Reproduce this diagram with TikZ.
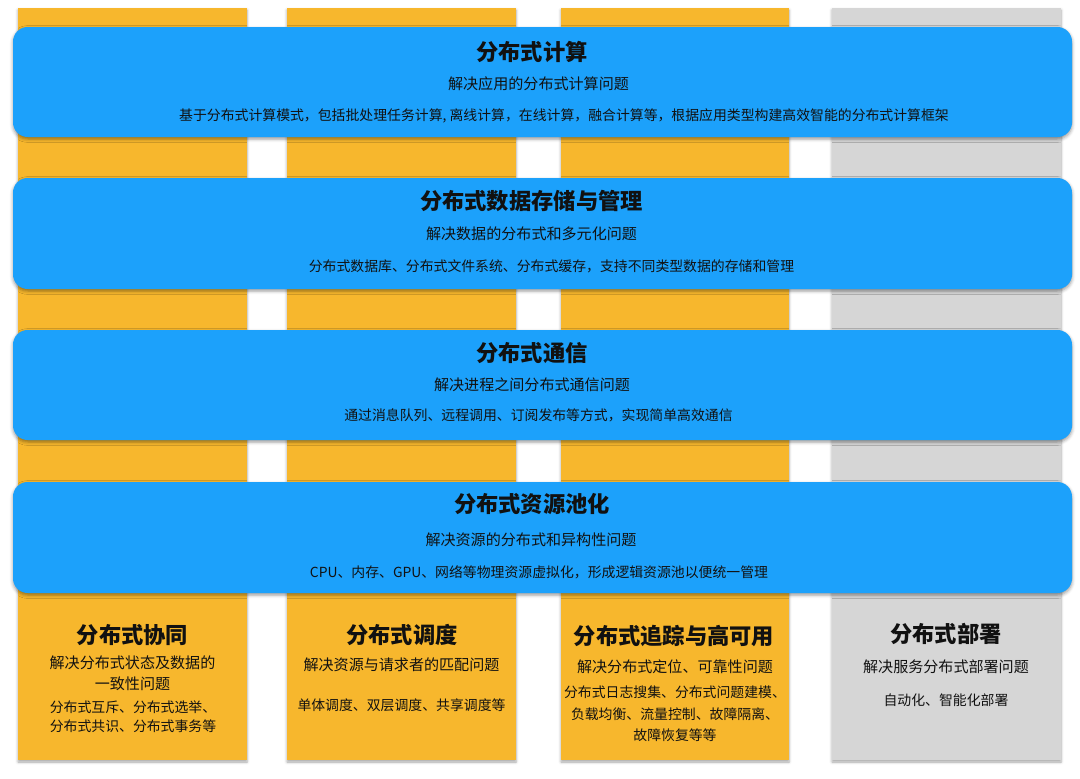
\documentclass[tikz,border=0pt]{standalone}
\usepackage{fontspec}
\setmainfont{Noto Sans CJK SC}
\usetikzlibrary{shadows.blur}
\definecolor{pillarorange}{RGB}{247,183,45}
\definecolor{pillargrey}{RGB}{214,214,214}
\definecolor{bandblue}{RGB}{28,161,251}
\definecolor{ink}{RGB}{17,17,17}

\begin{document}
\begin{tikzpicture}[x=0.75pt,y=0.75pt,yscale=-1,xscale=1,
    pillar/.style={fill=pillarorange,blur shadow={shadow xshift=0pt,shadow yshift=-1.5pt,shadow blur radius=2pt,shadow opacity=35}},
    band/.style={fill=bandblue,rounded corners=11pt,blur shadow={shadow xshift=0pt,shadow yshift=-1.5pt,shadow blur radius=2.5pt,shadow opacity=40}},
    title/.style={inner sep=0pt,text=ink,font=\bfseries\fontsize{16.7}{20}\selectfont},
    subtitle/.style={inner sep=0pt,text=ink,font=\fontsize{11.3}{14}\selectfont},
    detail/.style={inner sep=0pt,text=ink,font=\fontsize{10.4}{13}\selectfont}]
        \path[use as bounding box] (0,0) rectangle (1080,778);

        %Shape: Rectangle [pillars]
        \fill[pillar] (18,8) rectangle (247,760);
        \fill[pillar] (287,8) rectangle (516,760);
        \fill[pillar] (561,8) rectangle (789,760);
        \fill[pillar,fill=pillargrey] (832,8) rectangle (1061,760);

        %Rounded Rect [bands]
        \fill[band] (13,27) rectangle (1072,137);
        \fill[band] (13,178) rectangle (1072,289);
        \fill[band] (13,330) rectangle (1072,440);
        \fill[band] (13,482) rectangle (1072,593);

        % Text Node
        \node[title] (calcTitle) at (532,52) {分布式计算};
        \node[subtitle] (calcSub) at (538.5,84) {解决应用的分布式计算问题};
        \node[detail] (calcDetail) at (564,116) {基于分布式计算模式，包括批处理任务计算, 离线计算，在线计算，融合计算等，根据应用类型构建高效智能的分布式计算框架};

        % Text Node
        \node[title] (storeTitle) at (531.5,201) {分布式数据存储与管理};
        \node[subtitle] (storeSub) at (531.5,234) {解决数据的分布式和多元化问题};
        \node[detail] (storeDetail) at (551.5,266) {分布式数据库、分布式文件系统、分布式缓存，支持不同类型数据的存储和管理};

        % Text Node
        \node[title] (commTitle) at (532,353) {分布式通信};
        \node[subtitle] (commSub) at (532,385) {解决进程之间分布式通信问题};
        \node[detail] (commDetail) at (538.5,415) {通过消息队列、远程调用、订阅发布等方式，实现简单高效通信};

        % Text Node
        \node[title] (poolTitle) at (532,504) {分布式资源池化};
        \node[subtitle] (poolSub) at (531,540) {解决资源的分布式和异构性问题};
        \node[detail] (poolDetail) at (539,572) {CPU、内存、GPU、网络等物理资源虚拟化，形成逻辑资源池以便统一管理};

        % Text Node
        \node[title] (coopTitle) at (132.5,635) {分布式协同};
        \node[subtitle] (coopSubA) at (132.5,663) {解决分布式状态及数据的};
        \node[subtitle] (coopSubB) at (132.5,684) {一致性问题};
        \node[detail] (coopDetailA) at (133,707) {分布式互斥、分布式选举、};
        \node[detail] (coopDetailB) at (133,726) {分布式共识、分布式事务等};

        % Text Node
        \node[title] (schedTitle) at (402,635) {分布式调度};
        \node[subtitle] (schedSub) at (401.5,665) {解决资源与请求者的匹配问题};
        \node[detail] (schedDetail) at (401.5,705) {单体调度、双层调度、共享调度等};

        % Text Node
        \node[title] (traceTitle) at (674,636) {分布式追踪与高可用};
        \node[subtitle] (traceSub) at (675,667) {解决分布式定位、可靠性问题};
        \node[detail] (traceDetailA) at (675,692) {分布式日志搜集、分布式问题建模、};
        \node[detail] (traceDetailB) at (675,714) {负载均衡、流量控制、故障隔离、};
        \node[detail] (traceDetailC) at (675,735) {故障恢复等等};

        % Text Node
        \node[title] (deployTitle) at (946,634) {分布式部署};
        \node[subtitle] (deploySub) at (946,667) {解决服务分布式部署问题};
        \node[detail] (deployDetail) at (946,700) {自动化、智能化部署};

\end{tikzpicture}
\end{document}
